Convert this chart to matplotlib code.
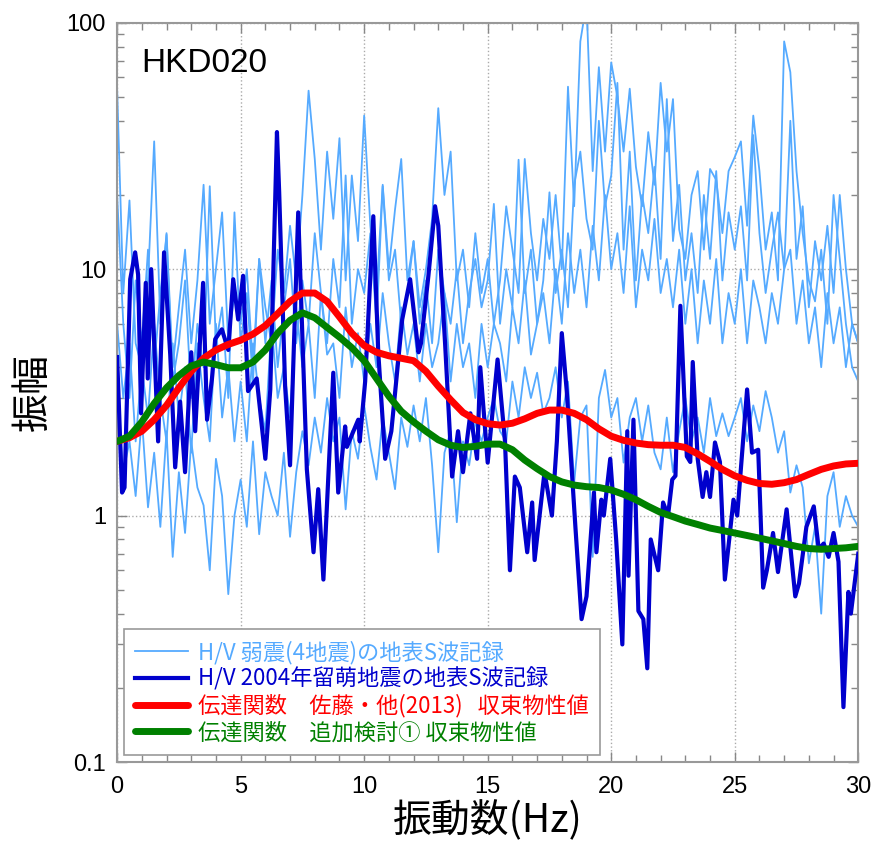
import numpy as np
import matplotlib
matplotlib.use('Agg')
import matplotlib.pyplot as plt
from matplotlib.ticker import FixedLocator, MultipleLocator, NullFormatter

plt.rcParams['font.family'] = ['Noto Sans CJK JP', 'DejaVu Sans']

# ── datos ─────────────────────────────────────────────────────────────
station = 'HKD020'

# H/V de los 4 sismos débiles, muestreados cada 0.25 Hz (0-30 Hz)
weak_freq = np.linspace(0, 30, 121)
weak_1 = [54, 8, 19, 5, 4, 9, 33, 6, 14, 4,
          7, 12, 5, 9, 22, 6, 10, 17, 5, 8,
          6, 10, 4, 11, 7, 5, 12, 8, 15, 9,
          20, 53, 28, 12, 30, 16, 34, 9, 24, 13,
          42, 15, 8, 22, 10, 17.5, 28, 9, 13, 7,
          10, 16, 45, 20, 30, 9, 12, 7, 14, 8,
          11, 6, 9, 18, 12, 8, 28, 14, 9, 16,
          11, 20, 10, 55, 18, 84, 120, 25, 66, 30,
          69, 50, 30, 54, 26, 18, 36, 22, 57, 30,
          49, 14.5, 11, 20, 25, 12, 25.5, 23, 14, 25,
          28.5, 33, 15, 42, 25, 12, 17, 9, 84, 63,
          25, 14, 9, 7.4, 12, 6, 20, 11, 6, 4,
          3.5]
weak_2 = [20, 6, 3, 9, 5, 12, 4, 8, 13.8, 3.5,
          5, 9, 3, 6, 4, 21.7, 5, 7, 3, 17,
          5, 8, 3.5, 11, 5, 9, 4, 7, 11, 5,
          9, 6, 14, 8, 5, 11, 7, 24, 6, 10,
          8, 14, 6, 21.7, 9, 12, 6, 8, 13, 6,
          9, 5, 12, 8, 6, 10, 5, 8, 11, 7,
          9, 18.4, 6, 10, 7, 27.8, 8, 12, 6, 9,
          20.5, 8, 12, 7, 22, 30, 16, 12, 40, 18,
          24, 57, 12, 30, 9, 20, 14, 26, 11, 49,
          13, 22, 9, 14, 8, 20, 11, 25, 9, 17,
          12, 18, 9, 35, 14, 8, 12, 17, 10, 40,
          11, 18, 7, 13, 9, 15, 8, 20, 10, 6,
          5]
weak_3 = [6, 3, 5, 2, 4, 2.5, 6, 3, 2, 5,
          2.5, 4, 1.8, 5, 3, 2, 6, 2.5, 4, 2,
          3.5, 2, 5, 3, 2.2, 6, 3, 4, 2.5, 7,
          4, 6, 3, 8, 4.5, 5, 3, 7, 4, 5.5,
          3.5, 6, 4, 8, 5, 3.5, 7, 4.5, 6, 3.5,
          6, 4, 5, 8, 3.5, 6, 4, 5, 3, 6,
          4, 6, 5, 3.5, 7, 5, 9, 4.5, 6, 8,
          5, 10, 6, 14, 8, 12, 7, 15, 9, 20,
          10, 14, 8, 18, 7, 12, 9, 16, 8, 11,
          7, 12, 6, 10, 5, 9, 6, 11, 5, 8,
          6, 10, 5, 9, 7, 5, 8, 6, 10, 12,
          6, 9, 5, 7, 4, 8, 5, 7, 4, 6,
          5]
weak_4 = [3, 1.5, 2, 1.2, 2.5, 1.08, 1.8, 0.9, 2.2, 0.68,
          1.5, 0.85, 2, 1.3, 1.1, 0.6, 1.7, 1.2, 0.48, 1.0,
          1.4, 0.9, 2, 0.84, 1.5, 1.2, 1.0, 1.8, 0.82, 1.5,
          2.2, 1.6, 2.5, 1.8, 3, 2, 2.5, 1.06, 2.2, 1.7,
          2.8, 1.9, 1.4, 2.5, 1.8, 1.28, 2.5, 1.9, 2.8, 2,
          3, 1.6, 0.71, 1.8, 2.2, 0.94, 2, 1.6, 2.4, 2.0,
          2.5, 3, 2.2, 2.0, 3.5, 2.5, 4, 3, 3.8, 2.6,
          3, 4, 2.5, 3.5, 1.36, 2.5, 2.8, 0.68, 3, 3.9,
          2.5, 3, 1.64, 2.5, 3, 2.0, 2.8, 1.8, 1.54, 2.5,
          1.5, 2.2, 3, 2, 2.5, 1.8, 3, 2.1, 2.6, 2.1,
          2.5, 3, 2, 2.8, 2.2, 3.2, 2.5, 1.8, 2.2, 1.24,
          1.6, 1.3, 0.64, 0.9, 0.4, 1.2, 1.5, 0.9, 1.2, 1.0,
          0.9]

# H/V del sismo de Rumoi 2004
rumoi_freq = [0.0, 0.2, 0.3, 0.53, 0.73, 0.85, 0.97, 1.16, 1.24, 1.38,
              1.66, 1.9, 2.07, 2.15, 2.35, 2.55, 2.75, 3.0, 3.16, 3.48,
              3.64, 3.84, 3.97, 4.24, 4.5, 4.7, 4.9, 5.1, 5.3, 5.65,
              6.0, 6.2, 6.47, 6.56, 6.8, 7.0, 7.33, 7.68, 7.95, 8.14,
              8.35, 8.75, 8.95, 9.23, 9.3, 9.76, 9.82, 10.04, 10.37, 10.57,
              10.85, 11.1, 11.54, 11.86, 12.2, 12.3, 12.6, 12.87, 13.0, 13.28,
              13.56, 13.8, 14.0, 14.3, 14.57, 14.7, 15.0, 15.4, 15.7, 15.9,
              16.1, 16.3, 16.6, 16.8, 16.9, 17.1, 17.3, 17.6, 17.8, 18.0,
              18.2, 18.55, 18.8, 19.0, 19.3, 19.4, 19.6, 19.7, 19.96, 20.2,
              20.45, 20.65, 20.7, 20.9, 21.1, 21.3, 21.46, 21.6, 21.9, 22.1,
              22.3, 22.47, 22.6, 22.8, 23.06, 23.2, 23.3, 23.5, 23.7, 23.85,
              24.0, 24.2, 24.4, 24.6, 24.95, 25.1, 25.5, 25.7, 25.95, 26.15,
              26.3, 26.55, 26.75, 27.1, 27.45, 27.6, 27.9, 28.2, 28.4, 28.6,
              28.8, 29.0, 29.2, 29.4, 29.6, 29.7, 30.0]
rumoi_amp = [4.4, 1.24, 1.3, 9.1, 11.7, 9.5, 2.6, 8.8, 3.6, 10,
             2.0, 11.7, 6.1, 4.5, 1.57, 2.9, 1.5, 4.6, 2.2, 8.8,
             2.45, 3.6, 5.2, 5.7, 4.7, 9.1, 6.25, 9.4, 3.2, 3.6,
             1.7, 3.25, 36, 20.5, 3.35, 1.6, 17, 1.54, 0.71, 1.28,
             0.55, 3.8, 1.24, 2.3, 1.9, 2.45, 2.0, 3.5, 16.4, 4.6,
             1.7, 2.2, 6.25, 9.1, 4.6, 5.0, 9.4, 18, 15, 4.9,
             1.44, 2.2, 1.5, 2.6, 1.7, 4.0, 1.64, 4.3, 2.0, 0.6,
             1.44, 1.3, 0.71, 1.13, 0.66, 1.0, 1.5, 1.0, 2.0, 5.5,
             3.2, 0.9, 0.38, 0.47, 1.24, 0.71, 1.16, 1.0, 1.7, 0.8,
             0.3, 2.2, 0.57, 2.45, 0.41, 0.38, 0.24, 0.8, 0.6, 1.13,
             1.0, 1.4, 1.45, 7.1, 1.74, 1.65, 4.2, 1.7, 1.19, 1.5,
             1.19, 1.98, 1.65, 0.55, 1.16, 1.0, 3.25, 1.8, 1.85, 0.51,
             0.6, 0.85, 0.59, 1.06, 0.47, 0.53, 0.9, 1.09, 0.73, 0.77,
             0.68, 0.85, 0.65, 0.167, 0.49, 0.4, 0.7]

# funciones de transferencia, cada 0.5 Hz
tf_freq = np.linspace(0, 30, 61)
tf_sato = [2.0, 2.07, 2.2, 2.45, 2.8, 3.3, 3.85, 4.35, 4.7, 4.95,
           5.15, 5.45, 5.9, 6.6, 7.4, 8.0, 8.0, 7.4, 6.4, 5.5,
           4.9, 4.6, 4.45, 4.35, 4.25, 3.85, 3.35, 2.95, 2.62, 2.45,
           2.36, 2.33, 2.37, 2.47, 2.6, 2.68, 2.68, 2.6, 2.45, 2.25,
           2.1, 2.02, 1.97, 1.94, 1.93, 1.93, 1.89, 1.78, 1.66, 1.54,
           1.45, 1.39, 1.35, 1.34, 1.36, 1.4, 1.47, 1.54, 1.59, 1.62, 1.63]
tf_extra = [2.0, 2.1, 2.4, 2.85, 3.3, 3.7, 4.05, 4.2, 4.1, 3.98,
            3.98, 4.2, 4.7, 5.5, 6.2, 6.65, 6.35, 5.8, 5.3, 4.8,
            4.25, 3.6, 3.05, 2.65, 2.4, 2.2, 2.03, 1.93, 1.89, 1.91,
            1.95, 1.95, 1.85, 1.68, 1.55, 1.44, 1.37, 1.33, 1.31, 1.3,
            1.27, 1.22, 1.16, 1.09, 1.03, 0.99, 0.95, 0.92, 0.89, 0.87,
            0.85, 0.83, 0.81, 0.79, 0.77, 0.75, 0.735, 0.73, 0.735, 0.74, 0.75]

labels = ['H/V 弱震(4地震)の地表S波記録',
          'H/V 2004年留萌地震の地表S波記録',
          '伝達関数　佐藤・他(2013)   収束物性値',
          '伝達関数　追加検討① 収束物性値']
colors = ['#55aaff', '#0000cd', '#ff0000', '#008000']

# ── gráfico ───────────────────────────────────────────────────────────
fig = plt.figure(figsize=(8.74, 8.42), dpi=100)
ax = fig.add_axes([0.134, 0.095, 0.848, 0.878])

for i, serie in enumerate([weak_1, weak_2, weak_3, weak_4]):
    ax.plot(weak_freq, serie, color=colors[0], lw=1.3,
            label=labels[0] if i == 0 else None, zorder=2)
ax.plot(rumoi_freq, rumoi_amp, color=colors[1], lw=3.0, label=labels[1], zorder=3)
ax.plot(tf_freq, tf_sato, color=colors[2], lw=5.0, label=labels[2], zorder=4,
        solid_capstyle='round')
ax.plot(tf_freq, tf_extra, color=colors[3], lw=5.0, label=labels[3], zorder=5,
        solid_capstyle='round')

ax.set_yscale('log')
ax.set_xlim(0, 30)
ax.set_ylim(0.1, 100)

ax.xaxis.set_major_locator(MultipleLocator(5))
ax.xaxis.set_minor_locator(MultipleLocator(1))
ax.yaxis.set_major_locator(FixedLocator([0.1, 1, 10, 100]))
ax.yaxis.set_minor_locator(FixedLocator(
    [m * d for d in (0.1, 1, 10) for m in range(2, 10)]))
ax.yaxis.set_minor_formatter(NullFormatter())
ax.set_yticklabels(['0.1', '1', '10', '100'])

ax.tick_params(which='both', direction='in', top=True, right=True,
               color='#888888', labelsize=17)
ax.tick_params(axis='x', which='major', pad=10)
ax.tick_params(axis='y', which='major', pad=8)
ax.tick_params(which='major', length=7, width=1)
ax.tick_params(which='minor', length=5, width=1)
for lab in ax.get_xticklabels() + ax.get_yticklabels():
    lab.set_family(['Liberation Sans', 'DejaVu Sans'])
for sp in ax.spines.values():
    sp.set_color('#999999')
    sp.set_linewidth(1.5)

ax.grid(True, which='major', color='#aaaaaa', linestyle=':', linewidth=1.0)
ax.set_axisbelow(True)

ax.set_xlabel('振動数(Hz)', fontsize=28, labelpad=2)
ax.set_ylabel('振幅', fontsize=28, labelpad=10)

ax.text(0.033, 0.966, station, transform=ax.transAxes, fontsize=24,
        family=['Liberation Sans', 'DejaVu Sans'], va='top', ha='left')

leg = ax.legend(loc='lower left', fontsize=16, frameon=True, fancybox=False,
                handlelength=2.4, handletextpad=0.45, labelspacing=0.15,
                borderpad=0.5, borderaxespad=0.3)
leg.get_frame().set_edgecolor('#999999')
leg.get_frame().set_linewidth(1.2)
leg.get_frame().set_alpha(1.0)
for txt, c in zip(leg.get_texts(), colors):
    txt.set_color(c)

fig.savefig('out.png', dpi=100, facecolor='white')
plt.close(fig)
